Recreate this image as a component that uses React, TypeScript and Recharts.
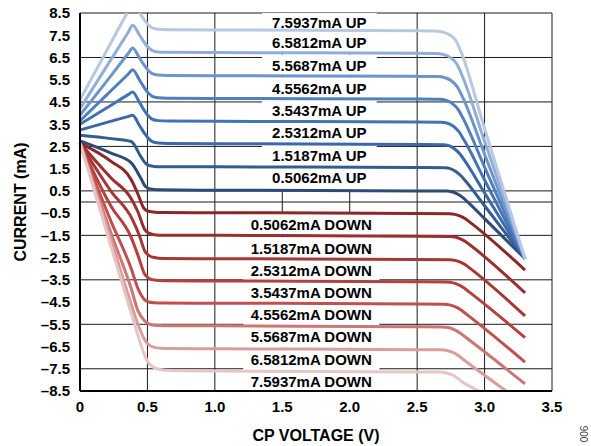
import React from "react";
import { CartesianGrid, Line, LineChart, ReferenceArea, ReferenceLine, XAxis, YAxis } from "recharts";

type Pt = [number, number];

// UP current sweeps (dark -> light), [CP voltage, current]
const up0: Pt[] = [[0, 2.75], [0.23, 2.2], [0.38, 1.76], [0.45, 1.08], [0.485, 0.7], [0.52, 0.59], [0.58, 0.55], [1.0, 0.53], [2.5, 0.5], [2.72, 0.49], [2.757, 0.46], [2.794, 0.375], [2.832, 0.23], [2.87, 0.03], [3.0, -0.75], [3.3, -2.55]];
const up1: Pt[] = [[0, 3.0], [0.23, 2.85], [0.38, 2.72], [0.45, 2.05], [0.485, 1.75], [0.52, 1.63], [0.58, 1.59], [1.0, 1.58], [2.5, 1.55], [2.706, 1.54], [2.745, 1.5], [2.784, 1.386], [2.823, 1.19], [2.862, 0.924], [3.0, -0.17], [3.3, -2.55]];
const up2: Pt[] = [[0, 3.24], [0.2, 3.58], [0.36, 3.85], [0.39, 3.9], [0.44, 3.45], [0.48, 3.07], [0.51, 2.84], [0.54, 2.7], [0.58, 2.65], [0.65, 2.63], [1.0, 2.62], [2.5, 2.59], [2.691, 2.58], [2.735, 2.534], [2.776, 2.398], [2.816, 2.17], [2.854, 1.851], [3.0, 0.41], [3.3, -2.55]];
const up3: Pt[] = [[0, 3.5], [0.2, 4.24], [0.36, 4.84], [0.39, 4.95], [0.44, 4.49], [0.48, 4.09], [0.51, 3.85], [0.54, 3.71], [0.58, 3.66], [0.65, 3.64], [1.0, 3.63], [2.5, 3.6], [2.677, 3.59], [2.726, 3.541], [2.771, 3.394], [2.811, 3.15], [2.846, 2.807], [3.0, 0.99], [3.3, -2.55]];
const up4: Pt[] = [[0, 3.65], [0.2, 4.83], [0.36, 5.77], [0.39, 5.95], [0.44, 5.5], [0.48, 5.11], [0.51, 4.88], [0.54, 4.74], [0.58, 4.69], [0.65, 4.67], [1.0, 4.66], [2.5, 4.63], [2.663, 4.62], [2.717, 4.568], [2.764, 4.413], [2.805, 4.155], [2.838, 3.794], [3.0, 1.57], [3.3, -2.55]];
const up5: Pt[] = [[0, 3.9], [0.2, 5.45], [0.36, 6.7], [0.39, 6.93], [0.44, 6.49], [0.48, 6.12], [0.51, 5.89], [0.54, 5.76], [0.58, 5.71], [0.65, 5.69], [1.0, 5.68], [2.5, 5.65], [2.649, 5.64], [2.708, 5.587], [2.759, 5.43], [2.799, 5.166], [2.831, 4.798], [3.0, 2.15], [3.3, -2.55]];
const up6: Pt[] = [[0, 4.2], [0.2, 6.12], [0.36, 7.66], [0.39, 7.95], [0.44, 7.52], [0.48, 7.15], [0.51, 6.93], [0.54, 6.8], [0.58, 6.75], [0.65, 6.73], [1.0, 6.72], [2.5, 6.69], [2.634, 6.68], [2.699, 6.628], [2.752, 6.471], [2.794, 6.21], [2.823, 5.845], [3.0, 2.73], [3.3, -2.55]];
const up7: Pt[] = [[0, 4.6], [0.2, 6.83], [0.36, 8.62], [0.39, 8.95], [0.44, 8.53], [0.48, 8.16], [0.51, 7.94], [0.54, 7.82], [0.58, 7.77], [0.65, 7.75], [1.0, 7.74], [2.5, 7.7], [2.62, 7.69], [2.69, 7.64], [2.746, 7.5], [2.788, 7.25], [2.815, 6.91], [3.0, 3.3], [3.3, -2.55]];

// DOWN current sweeps (dark -> light)
const down0: Pt[] = [[0, 2.65], [0.23, 1.83], [0.38, 1.0], [0.43, 0.35], [0.47, -0.25], [0.5, -0.4], [0.54, -0.45], [0.62, -0.475], [1.0, -0.48], [2.5, -0.52], [2.74, -0.53], [2.78, -0.556], [2.82, -0.635], [2.86, -0.766], [2.9, -0.949], [3.3, -3.06]];
const down1: Pt[] = [[0, 2.65], [0.23, 1.08], [0.38, 0.15], [0.43, -0.45], [0.48, -1.24], [0.51, -1.4], [0.55, -1.47], [0.62, -1.495], [1.0, -1.5], [2.5, -1.54], [2.74, -1.55], [2.78, -1.576], [2.82, -1.655], [2.86, -1.786], [2.9, -1.969], [3.3, -4.09]];
const down2: Pt[] = [[0, 2.65], [0.23, 0.48], [0.39, -0.8], [0.44, -1.5], [0.48, -2.2], [0.51, -2.4], [0.55, -2.5], [0.62, -2.54], [1.0, -2.55], [2.5, -2.59], [2.74, -2.6], [2.78, -2.626], [2.82, -2.705], [2.86, -2.836], [2.9, -3.019], [3.3, -5.12]];
const down3: Pt[] = [[0, 2.65], [0.23, -0.19], [0.38, -1.6], [0.43, -2.4], [0.48, -3.25], [0.51, -3.43], [0.55, -3.51], [0.62, -3.54], [1.0, -3.55], [2.5, -3.59], [2.72, -3.6], [2.76, -3.626], [2.8, -3.705], [2.84, -3.836], [2.88, -4.019], [3.3, -6.1]];
const down4: Pt[] = [[0, 2.65], [0.23, -0.87], [0.38, -3.0], [0.43, -3.9], [0.48, -4.4], [0.51, -4.5], [0.55, -4.53], [0.62, -4.545], [1.0, -4.55], [2.5, -4.59], [2.7, -4.6], [2.74, -4.626], [2.78, -4.705], [2.82, -4.836], [2.86, -5.019], [3.3, -7.2]];
const down5: Pt[] = [[0, 2.65], [0.23, -1.4], [0.38, -3.9], [0.43, -4.9], [0.48, -5.35], [0.51, -5.48], [0.55, -5.54], [0.62, -5.56], [1.0, -5.57], [2.5, -5.61], [2.69, -5.62], [2.73, -5.646], [2.77, -5.725], [2.81, -5.856], [2.85, -6.039], [3.3, -8.18]];
const down6: Pt[] = [[0, 2.65], [0.23, -1.7], [0.38, -4.6], [0.43, -5.5], [0.48, -6.2], [0.51, -6.42], [0.55, -6.54], [0.6, -6.58], [0.68, -6.59], [1.0, -6.6], [2.5, -6.64], [2.68, -6.65], [2.72, -6.676], [2.76, -6.755], [2.8, -6.886], [2.84, -7.069], [3.16, -8.5]];
const down7: Pt[] = [[0, 2.65], [0.23, -2.0], [0.38, -5.0], [0.43, -6.0], [0.48, -6.9], [0.51, -7.25], [0.55, -7.45], [0.6, -7.54], [0.68, -7.58], [1.0, -7.6], [2.5, -7.64], [2.67, -7.65], [2.71, -7.676], [2.75, -7.755], [2.79, -7.886], [2.83, -8.069], [2.96, -8.5]];

const upSeries = [up0, up1, up2, up3, up4, up5, up6, up7];
const downSeries = [down0, down1, down2, down3, down4, down5, down6, down7];

const upNames = ["0.5062mA UP", "1.5187mA UP", "2.5312mA UP", "3.5437mA UP", "4.5562mA UP", "5.5687mA UP", "6.5812mA UP", "7.5937mA UP"];
const downNames = ["0.5062mA DOWN", "1.5187mA DOWN", "2.5312mA DOWN", "3.5437mA DOWN", "4.5562mA DOWN", "5.5687mA DOWN", "6.5812mA DOWN", "7.5937mA DOWN"];
const upLabelY = [1.08, 2.08, 3.1, 4.1, 5.1, 6.12, 7.15, 8.1];
const downLabelY = [-1.03, -2.08, -3.09, -4.08, -5.08, -6.05, -7.1, -8.12];

const xTicks = [0, 0.5, 1.0, 1.5, 2.0, 2.5, 3.0, 3.5];
const yTicks = [-8.5, -7.5, -6.5, -5.5, -4.5, -3.5, -2.5, -1.5, -0.5, 0.5, 1.5, 2.5, 3.5, 4.5, 5.5, 6.5, 7.5, 8.5];

const upColors = ["#2d4b79", "#345c91", "#3b68a6", "#4473b4", "#4f7fbe", "#6c95c9", "#90aed7", "#b7c8e3"];
const downColors = ["#8a2727", "#9a2f2f", "#a73636", "#b44040", "#c05050", "#cd7676", "#d99d9d", "#e7c5c5"];

const font = '"Liberation Sans", Arial, sans-serif';
const txt = { fill: "#000", fontSize: 15, fontWeight: 700, fontFamily: font };

const rows = (pts: Pt[]) => pts.map(([x, y]) => ({ x, y }));
const fmtY = (v: number) => (v < 0 ? "\u2013" + Math.abs(v).toFixed(1) : v.toFixed(1));
const fmtX = (v: number) => (v === 0 ? "0" : v.toFixed(1));
const clamp = (v: number) => Math.max(-8.5, Math.min(8.5, v));

export default function App() {
	return (
		<div style={{ position: "fixed", left: 0, top: 0, width: 591, height: 446, background: "#fff" }}>
			<LineChart width={591} height={446} margin={{ top: 13, right: 39, bottom: 0, left: 0 }}>
				<CartesianGrid stroke="#1a1a1a" strokeWidth={1} />
				<XAxis
					type="number"
					dataKey="x"
					domain={[0, 3.5]}
					ticks={xTicks}
					tickFormatter={fmtX}
					height={55}
					tickSize={0}
					tickMargin={10}
					tick={txt}
					axisLine={{ stroke: "#000", strokeWidth: 2 }}
					label={{ value: "CP VOLTAGE (V)", position: "insideBottom", offset: 5, style: { ...txt, fontSize: 16 } }}
				/>
				<YAxis
					type="number"
					domain={[-8.5, 8.5]}
					ticks={yTicks}
					allowDataOverflow
					tickFormatter={fmtY}
					width={80}
					tickSize={0}
					tickMargin={10}
					tick={txt}
					axisLine={{ stroke: "#000", strokeWidth: 2 }}
					label={{ value: "CURRENT (mA)", angle: -90, position: "insideLeft", offset: 20, style: { ...txt, fontSize: 16, textAnchor: "middle" } }}
				/>
				<ReferenceLine y={0} stroke="#1a1a1a" strokeWidth={1} />
				{upNames.map((n, i) => (
					<ReferenceArea
						key={n}
						x1={1.35}
						x2={2.2}
						y1={clamp(upLabelY[i] - 0.5)}
						y2={clamp(upLabelY[i] + 0.5)}
						fill="#fff"
						fillOpacity={1}
						stroke="none"
						label={{ value: n, position: "center", style: txt }}
					/>
				))}
				{downNames.map((n, i) => (
					<ReferenceArea
						key={n}
						x1={1.21}
						x2={2.22}
						y1={clamp(downLabelY[i] - 0.5)}
						y2={clamp(downLabelY[i] + 0.5)}
						fill="#fff"
						fillOpacity={1}
						stroke="none"
						label={{ value: n, position: "center", style: txt }}
					/>
				))}
				{downSeries.map((s, i) => (
					<Line
						key={downNames[i]}
						data={rows(s)}
						dataKey="y"
						type="monotone"
						stroke={downColors[i]}
						strokeWidth={3}
						dot={false}
						isAnimationActive={false}
					/>
				))}
				{upSeries.map((s, i) => (
					<Line
						key={upNames[i]}
						data={rows(s)}
						dataKey="y"
						type="monotone"
						stroke={upColors[i]}
						strokeWidth={3}
						dot={false}
						isAnimationActive={false}
					/>
				))}
			</LineChart>
			<div
				style={{
					position: "absolute",
					left: 574,
					top: 427,
					width: 22,
					height: 14,
					fontFamily: font,
					fontSize: 10,
					color: "#333",
					textAlign: "center",
					lineHeight: "14px",
					transform: "rotate(-90deg)",
				}}
			>
				006
			</div>
		</div>
	);
}
